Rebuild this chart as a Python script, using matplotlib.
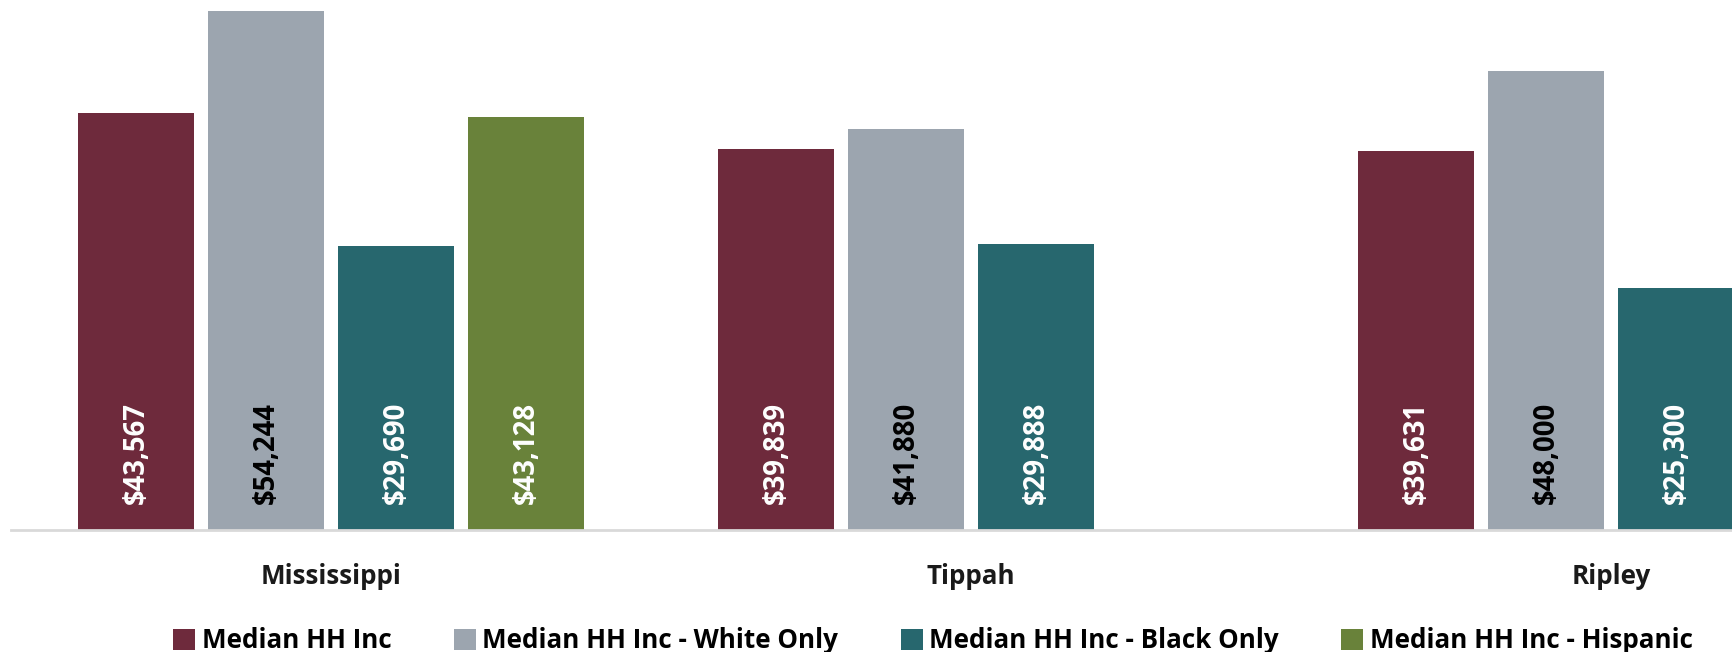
import numpy as np
import matplotlib
matplotlib.use("Agg")
import matplotlib.pyplot as plt
from matplotlib.patches import Patch

categories = ["Mississippi", "Tippah", "Ripley"]
series_names = ["Median HH Inc", "Median HH Inc - White Only",
                "Median HH Inc - Black Only", "Median HH Inc - Hispanic"]
median_all = [43567, 39839, 39631]
median_white = [54244, 41880, 48000]
median_black = [29690, 29888, 25300]
median_hispanic = [43128, np.nan, np.nan]

series = [median_all, median_white, median_black, median_hispanic]
colors = ["#6E2A3C", "#9CA5AF", "#27676E", "#69823A"]
label_colors = ["white", "black", "white", "white"]

FONT = "Open Sans"
W, H = 1733, 652
fig = plt.figure(figsize=(W / 100, H / 100), dpi=100)

# axes extends beyond the right edge (chart is cropped in the reference)
left_px, right_px = 11, 1931
base_px = 530
top_px = base_px - 60000 * (519 / 54244)
ax = fig.add_axes([left_px / W, (H - base_px) / H, (right_px - left_px) / W,
                   (base_px - top_px) / H])
ax.set_xlim(-0.5, 2.5)
ax.set_ylim(0, 60000)

x = np.arange(len(categories))
pitch = 130 / 640
width = 116 / 640
for i, (vals, c, lc) in enumerate(zip(series, colors, label_colors)):
    xs = x + (i - 1.5) * pitch
    ax.bar(xs, vals, width=width, color=c, label=series_names[i], zorder=2)
    for xi, v in zip(xs, vals):
        if np.isnan(v):
            continue
        ax.annotate(f"${v:,.0f}", xy=(xi, 0), xytext=(0, 19), textcoords="offset points",
                    rotation=90, ha="center", va="bottom", color=lc,
                    fontsize=19.8, fontweight="bold", family=FONT, zorder=3)

for s in ["top", "right", "left"]:
    ax.spines[s].set_visible(False)
ax.spines["bottom"].set_color("#D9D9D9")
ax.spines["bottom"].set_linewidth(2)
ax.set_yticks([])
ax.set_xticks(x)
ax.set_xticklabels(categories, fontsize=18.7, fontweight="bold", family=FONT, color="#1a1a1a")
ax.tick_params(axis="x", length=0, pad=24)

handles = [Patch(facecolor=c) for c in colors]
fig.legend(handles, series_names, loc="center", ncol=4,
           bbox_to_anchor=(933 / W, 1 - 641 / H), frameon=False,
           prop={"family": FONT, "size": 18.7, "weight": "bold"},
           handlelength=0.85, handleheight=0.85, handletextpad=0.25, columnspacing=2.4)

fig.savefig("out.png", dpi=100)
